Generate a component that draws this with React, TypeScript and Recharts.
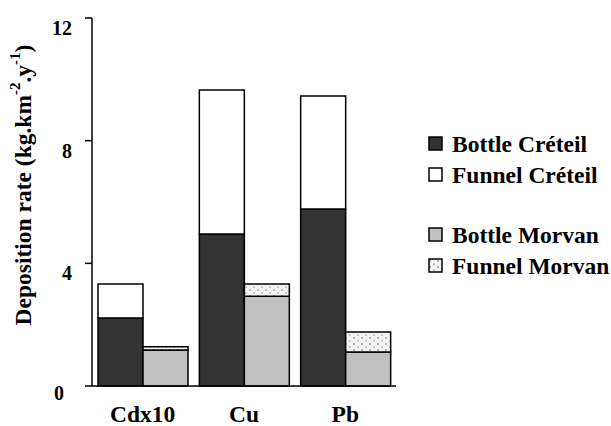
import React from "react";
import { BarChart, Bar, XAxis, YAxis, Legend, Label } from "recharts";

const categories = ["Cdx10", "Cu", "Pb"];
const bottleCreteil = [2.22, 4.96, 5.77];
const funnelCreteil = [1.11, 4.69, 3.69];
const bottleMorvan = [1.17, 2.93, 1.11];
const funnelMorvan = [0.11, 0.4, 0.65];
const yTicks = [0, 4, 8, 12];

const FONT = '"Liberation Serif", "Times New Roman", serif';

const data = categories.map((name, i) => ({
  name,
  bottleCreteil: bottleCreteil[i],
  funnelCreteil: funnelCreteil[i],
  bottleMorvan: bottleMorvan[i],
  funnelMorvan: funnelMorvan[i],
}));

const legendItems = [
  { label: "Bottle Créteil", fill: "#333333" },
  { label: "Funnel Créteil", fill: "#ffffff" },
  null,
  { label: "Bottle Morvan", fill: "#c0c0c0" },
  { label: "Funnel Morvan", fill: "url(#dots)" },
];

function YTick(props: any) {
  const { x, y, payload } = props;
  const isZero = payload.value === 0;
  return (
    <text
      x={isZero ? x - 8 : x}
      y={y + (isZero ? 7 : 10)}
      textAnchor="end"
      dominantBaseline="central"
      fontFamily={FONT}
      fontWeight="bold"
      fontSize={20}
      fill="#000"
    >
      {payload.value}
    </text>
  );
}

function XTick(props: any) {
  const { x, y, payload } = props;
  return (
    <text
      x={x}
      y={y + 20}
      textAnchor="middle"
      dominantBaseline="central"
      fontFamily={FONT}
      fontWeight="bold"
      fontSize={23.5}
      fill="#000"
    >
      {payload.value}
    </text>
  );
}

function YLabel() {
  return (
    <text
      x={23}
      y={185}
      transform="rotate(-90 23 185)"
      textAnchor="middle"
      dominantBaseline="central"
      fontFamily={FONT}
      fontWeight="bold"
      fontSize={23.5}
      fill="#000"
    >
      Deposition rate (kg.km
      <tspan dy={-8} fontSize={15}>-2</tspan>
      <tspan dy={8}>.y</tspan>
      <tspan dy={-8} fontSize={15}>-1</tspan>
      <tspan dy={8}>)</tspan>
    </text>
  );
}

function LegendBox() {
  let y = 0;
  const rows: any[] = [];
  legendItems.forEach((item, i) => {
    if (!item) {
      y += 29;
      return;
    }
    rows.push(
      <g key={i} transform={`translate(0, ${y})`}>
        <rect x={1} y={-6} width={13} height={13} fill={item.fill} stroke="#000" strokeWidth={1.5} />
        <text
          x={24}
          y={1}
          dominantBaseline="central"
          fontFamily={FONT}
          fontWeight="bold"
          fontSize={23.5}
          fill="#000"
        >
          {item.label}
        </text>
      </g>
    );
    y += 31;
  });
  return (
    <svg width={200} height={150} style={{ overflow: "visible" }}>
      <g transform="translate(0, 8)">{rows}</g>
    </svg>
  );
}

export default function App() {
  return (
    <div style={{ position: "absolute", left: 0, top: 0, background: "#fff" }}>
      <BarChart
        width={611}
        height={426}
        data={data}
        margin={{ top: 18, right: 215, bottom: 0, left: 0 }}
        barGap={0}
        barCategoryGap={6}
      >
        <defs>
          <pattern id="dots" width="8" height="6" patternUnits="userSpaceOnUse">
            <rect width="8" height="6" fill="#f4f4f4" />
            <rect x="1" y="1" width="2" height="2" fill="#b5b5b5" />
            <rect x="5" y="4" width="2" height="2" fill="#c8c8c8" />
          </pattern>
        </defs>
        <XAxis
          dataKey="name"
          tickLine={false}
          axisLine={{ stroke: "#000", strokeWidth: 1.5 }}
          tick={<XTick />}
          height={40}
        />
        <YAxis
          domain={[0, 12]}
          ticks={yTicks}
          width={92}
          tickSize={7}
          tickMargin={13}
          tickLine={{ stroke: "#000", strokeWidth: 1.5 }}
          axisLine={{ stroke: "#000", strokeWidth: 1.5 }}
          tick={<YTick />}
          interval={0}
        >
          <Label content={<YLabel />} />
        </YAxis>
        <Legend
          layout="horizontal"
          verticalAlign="middle"
          align="center"
          content={<LegendBox />}
          wrapperStyle={{ position: "absolute", left: 428, top: 135, width: 200 }}
        />
        <Bar dataKey="bottleCreteil" stackId="c" fill="#333333" stroke="#000" strokeWidth={1.5} isAnimationActive={false} />
        <Bar dataKey="funnelCreteil" stackId="c" fill="#ffffff" stroke="#000" strokeWidth={1.5} isAnimationActive={false} />
        <Bar dataKey="bottleMorvan" stackId="m" fill="#c0c0c0" stroke="#000" strokeWidth={1.5} isAnimationActive={false} />
        <Bar dataKey="funnelMorvan" stackId="m" fill="url(#dots)" stroke="#000" strokeWidth={1.5} isAnimationActive={false} />
      </BarChart>
    </div>
  );
}
